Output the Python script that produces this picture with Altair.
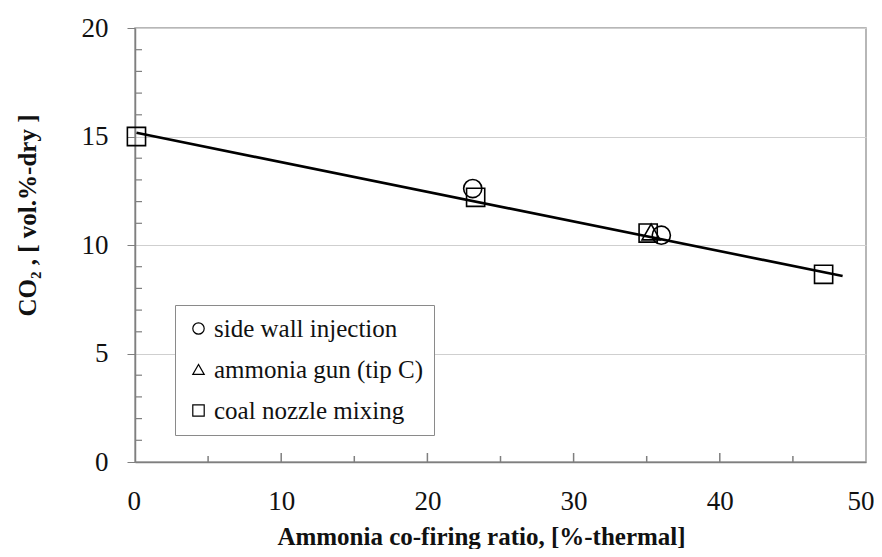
import altair as alt
import pandas as pd

# ---- data ----
methods = ["side wall injection", "ammonia gun (tip C)", "coal nozzle mixing"]
shapes = ["circle", "triangle-up", "square"]

side_wall_x = [23.1, 36.0]
side_wall_y = [12.6, 10.45]
gun_x = [35.3]
gun_y = [10.6]
nozzle_x = [0.1, 23.3, 35.1, 47.1]
nozzle_y = [15.0, 12.2, 10.55, 8.65]

fit_x = [0.1, 48.4]
fit_y = [15.17, 8.57]

x_major = [10, 20, 30, 40]
x_minor = [5, 15, 25, 35, 45]
y_major = [0, 5, 10, 15, 20]
y_minor = [1, 2, 3, 4, 6, 7, 8, 9, 11, 12, 13, 14, 16, 17, 18, 19]

FONT = "Liberation Serif, Times New Roman, DejaVu Serif, serif"
W, H = 731, 434

rows = []
for xs, ys, m in [(side_wall_x, side_wall_y, methods[0]),
                  (gun_x, gun_y, methods[1]),
                  (nozzle_x, nozzle_y, methods[2])]:
    for a, b in zip(xs, ys):
        rows.append({"x": a, "y": b, "method": m})
pts = pd.DataFrame(rows)
fit = pd.DataFrame({"x": fit_x, "y": fit_y})

xscale = alt.Scale(domain=[0, 50], nice=False, zero=False)
yscale = alt.Scale(domain=[0, 20], nice=False, zero=False)

xaxis = alt.Axis(
    values=[0, 10, 20, 30, 40, 50], format="d", ticks=False, grid=False,
    labelFont=FONT, labelFontSize=27, labelColor="#111", labelPadding=26,
    labelFlush=True, labelFlushOffset=8,
    domainColor="#7f7f7f", domainWidth=1.5,
    title="Ammonia co-firing ratio, [%-thermal]", titleFont=FONT,
    titleFontSize=25, titleFontWeight="bold", titleColor="#111",
    titleX=346, titleY=82, titleBaseline="alphabetic", titleAlign="center",
)
yaxis = alt.Axis(
    values=y_major, format="d", tickSize=8, tickColor="#7f7f7f",
    grid=True, gridColor="#cfcfcf", gridWidth=1.2,
    labelFont=FONT, labelFontSize=27, labelColor="#111", labelPadding=19,
    labelFlush=False,
    domainColor="#7f7f7f", domainWidth=1.5,
    title="CO\u2082 , [ vol.%-dry ]", titleFont=FONT, titleFontSize=25,
    titleFontWeight="bold", titleColor="#111", titleAngle=-90,
    titleX=-108, titleY=187, titleBaseline="middle", titleAlign="center",
)

base_pts = alt.Chart(pts).mark_point(
    filled=False, size=330, strokeWidth=1.6, color="black", opacity=1
).encode(
    x=alt.X("x:Q", scale=xscale, axis=xaxis),
    y=alt.Y("y:Q", scale=yscale, axis=yaxis),
    shape=alt.Shape(
        "method:N",
        scale=alt.Scale(domain=methods, range=shapes),
        legend=alt.Legend(
            title=None, orient="none", legendX=40, legendY=277,
            labelFont=FONT, labelFontSize=25, labelColor="#111",
            labelLimit=400, symbolSize=130, symbolStrokeWidth=1.2,
            symbolStrokeColor="black", symbolFillColor="transparent",
            symbolType="circle", rowPadding=15, padding=11,
            labelOffset=3, strokeColor="#8a8a8a", fillColor="white",
        ),
    ),
)

line = alt.Chart(fit).mark_line(color="black", strokeWidth=2.6).encode(
    x=alt.X("x:Q", scale=xscale), y=alt.Y("y:Q", scale=yscale)
)

xmaj = alt.Chart(pd.DataFrame({"v": x_major})).mark_rule(
    color="#7f7f7f", strokeWidth=1.5
).encode(x=alt.X("v:Q", scale=xscale), y=alt.value(H), y2=alt.value(H - 9))
xmin = alt.Chart(pd.DataFrame({"v": x_minor})).mark_rule(
    color="#7f7f7f", strokeWidth=1.5
).encode(x=alt.X("v:Q", scale=xscale), y=alt.value(H), y2=alt.value(H - 6))
ymin = alt.Chart(pd.DataFrame({"v": y_minor})).mark_rule(
    color="#7f7f7f", strokeWidth=1.2
).encode(y=alt.Y("v:Q", scale=yscale), x=alt.value(0), x2=alt.value(7))

chart = alt.layer(xmaj, xmin, ymin, line, base_pts).properties(
    width=W, height=H,
    autosize=alt.AutoSizeParams(type="none"),
    padding={"left": 127, "top": 20, "right": 8, "bottom": 87},
).configure(
    background="white", font=FONT
).configure_view(stroke="#a0a0a0", strokeWidth=1.5)

chart.save("out.html", embed_options={"renderer": "svg", "actions": False})
